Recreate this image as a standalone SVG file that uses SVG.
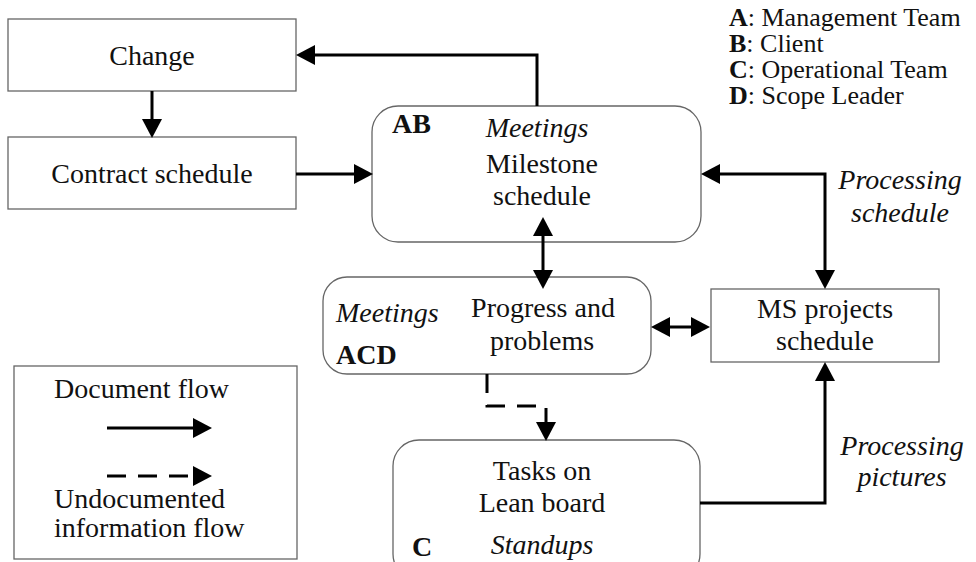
<svg xmlns="http://www.w3.org/2000/svg" width="976" height="562" viewBox="0 0 976 562">
<style>
text{font-family:"Liberation Serif","Times New Roman",serif;font-size:28px;fill:#111}
.r{font-size:26px}
.c{text-anchor:middle}
.i{font-style:italic}
.b{font-weight:bold}
.box{fill:#fff;stroke:#666;stroke-width:1.3}
.ln{fill:none;stroke:#000;stroke-width:3}
.d{stroke-dasharray:19 12}
</style>
<defs>
<marker id="ah" markerUnits="userSpaceOnUse" markerWidth="19" markerHeight="20" refX="12" refY="10" orient="auto-start-reverse" viewBox="0 0 19 20">
<path d="M0,0 L19,10 L0,20 z" fill="#000"/>
</marker>
</defs>
<rect width="976" height="562" fill="#fff"/>
<g id="change"><rect class="box" x="8" y="19" width="288" height="72"/><text class="c" x="152" y="65">Change</text></g>
<g id="contract"><rect class="box" x="8" y="137" width="288" height="72"/><text class="c" x="152" y="183">Contract schedule</text></g>
<g id="milestone"><rect class="box" x="372" y="106" width="329" height="136" rx="26"/>
<text class="b" x="392" y="133">AB</text><text class="c i" x="537" y="137">Meetings</text>
<text class="c" x="542" y="173">Milestone</text><text class="c" x="542" y="205">schedule</text></g>
<g id="progress"><rect class="box" x="323" y="277" width="328" height="97" rx="24"/>
<text class="i" x="336" y="322">Meetings</text><text class="b" x="336" y="364">ACD</text>
<text class="c" x="543" y="317">Progress and</text><text class="c" x="542" y="350">problems</text></g>
<g id="ms"><rect class="box" x="711" y="289" width="228" height="73"/>
<text class="c" x="825" y="318">MS projects</text><text class="c" x="825" y="350">schedule</text></g>
<g id="tasks"><rect class="box" x="393" y="440" width="307" height="140" rx="26"/>
<text class="c" x="542" y="480">Tasks on</text><text class="c" x="542" y="512">Lean board</text>
<text class="b" x="412" y="556">C</text><text class="c i" x="542" y="554">Standups</text></g>
<g id="roles">
<text class="r" x="729" y="26"><tspan class="b">A</tspan>: Management Team</text>
<text class="r" x="729" y="52"><tspan class="b">B</tspan>: Client</text>
<text class="r" x="729" y="78"><tspan class="b">C</tspan>: Operational Team</text>
<text class="r" x="729" y="104"><tspan class="b">D</tspan>: Scope Leader</text>
</g>
<g id="labels">
<text class="c i" x="900" y="189">Processing</text><text class="c i" x="900" y="222">schedule</text>
<text class="c i" x="902" y="455">Processing</text><text class="c i" x="902" y="486">pictures</text>
</g>
<g id="legend"><rect class="box" x="14" y="366" width="283" height="193"/>
<text x="54" y="398">Document flow</text>
<path class="ln" d="M107,428 H205" marker-end="url(#ah)"/>
<path class="ln d" d="M107,476 H205" marker-end="url(#ah)"/>
<text x="54" y="508">Undocumented</text><text x="54" y="537">information flow</text></g>
<g id="connectors">
<path class="ln" d="M152,91 V131" marker-end="url(#ah)"/>
<path class="ln" d="M296,174 H366" marker-end="url(#ah)"/>
<path class="ln" d="M537,106 V55 H303" marker-end="url(#ah)"/>
<path class="ln" d="M543,224 V282" marker-start="url(#ah)" marker-end="url(#ah)"/>
<path class="ln" d="M658,327 H703" marker-start="url(#ah)" marker-end="url(#ah)"/>
<path class="ln" d="M708,174 H825 V282" marker-start="url(#ah)" marker-end="url(#ah)"/>
<path class="ln" d="M700,503 H825 V369" marker-end="url(#ah)"/>
<path class="ln d" d="M487,374 V406 H546 V434" marker-end="url(#ah)"/>
</g>
</svg>
